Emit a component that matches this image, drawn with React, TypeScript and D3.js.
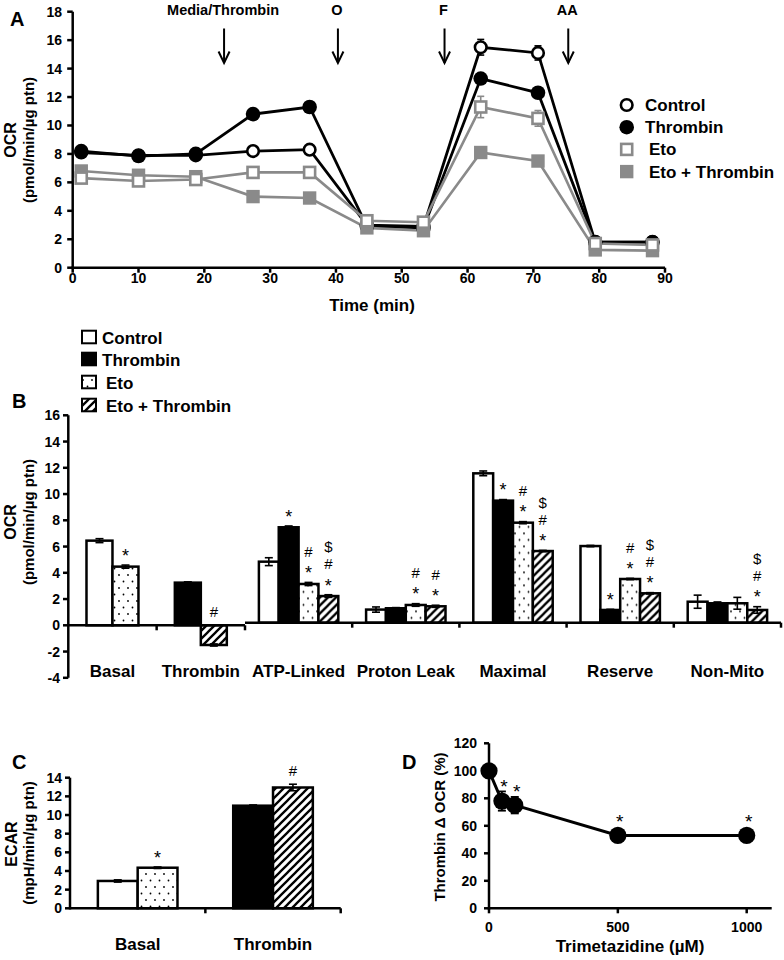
import React from "react";
import * as d3 from "d3";

// ---------------- Panel A: OCR time course ----------------
const timeMin = [1.3, 10, 18.7, 27.4, 36, 44.7, 53.3, 62, 70.7, 79.4, 88.1];
const ocrControl = [8.1, 7.9, 7.9, 8.2, 8.3, 3.0, 2.9, 15.5, 15.1, 1.8, 1.8];
const ocrThrombin = [8.2, 7.85, 8.0, 10.8, 11.3, 2.9, 2.8, 13.3, 12.3, 1.8, 1.8];
const ocrEto = [6.3, 6.1, 6.2, 6.7, 6.7, 3.3, 3.2, 11.3, 10.5, 1.7, 1.6];
const ocrEtoThrombin = [6.8, 6.5, 6.4, 5.0, 4.9, 2.8, 2.6, 8.1, 7.5, 1.25, 1.2];
const errControl = [0.2, 0.15, 0.15, 0.15, 0.15, 0.1, 0.1, 0.55, 0.5, 0.1, 0.1];
const errThrombin = [0.2, 0.15, 0.15, 0.15, 0.15, 0.1, 0.1, 0.3, 0.3, 0.1, 0.1];
const errEto = [0.15, 0.15, 0.15, 0.15, 0.15, 0.1, 0.1, 0.75, 0.55, 0.1, 0.1];
const errEtoThrombin = [0.15, 0.15, 0.15, 0.15, 0.15, 0.1, 0.1, 0.3, 0.3, 0.1, 0.1];
const injectionTimes = [23, 40.3, 56.5, 75.3];
const injectionLabels = ["Media/Thrombin", "O", "F", "AA"];
const aXTicks = [0, 10, 20, 30, 40, 50, 60, 70, 80, 90];
const aYTicks = [0, 2, 4, 6, 8, 10, 12, 14, 16, 18];
const legendNames = ["Control", "Thrombin", "Eto", "Eto + Thrombin"];

// ---------------- Panel B: OCR parameters ----------------
const bCategories = ["Basal", "Thrombin", "ATP-Linked", "Proton Leak", "Maximal", "Reserve", "Non-Mito"];
const bControl = [6.45, null, 4.65, 1.0, 11.38, 5.84, 1.6];
const bThrombin = [null, 3.25, 7.27, 1.1, 9.3, 0.97, 1.48];
const bEto = [4.47, null, 2.95, 1.35, 7.62, 3.33, 1.48];
const bEtoThrombin = [null, -1.5, 2.03, 1.25, 5.46, 2.24, 0.97];
const bErrControl = [0.15, 0, 0.3, 0.2, 0.18, 0.05, 0.5];
const bErrThrombin = [0, 0.06, 0.1, 0.05, 0.08, 0.05, 0.1];
const bErrEto = [0.12, 0, 0.12, 0.1, 0.08, 0.05, 0.45];
const bErrEtoThrombin = [0, 0.08, 0.1, 0.08, 0.05, 0.05, 0.25];
const bSigControl = ["", "", "", "", "", "", ""];
const bSigThrombin = ["", "", "*", "", "*", "*", ""];
const bSigEto = ["*", "", "*#", "*#", "*#", "*#", ""];
const bSigEtoThrombin = ["", "#", "*#$", "*#", "*#$", "*#$", "*#$"];
const bYTicks = [-4, -2, 0, 2, 4, 6, 8, 10, 12, 14, 16];

// ---------------- Panel C: ECAR ----------------
const cCategories = ["Basal", "Thrombin"];
const cControl = [2.93, null];
const cThrombin = [null, 11.0];
const cEto = [4.35, null];
const cEtoThrombin = [null, 12.95];
const cErrControl = [0.12, 0];
const cErrThrombin = [0, 0.08];
const cErrEto = [0.08, 0];
const cErrEtoThrombin = [0, 0.35];
const cSigControl = ["", ""];
const cSigThrombin = ["", ""];
const cSigEto = ["*", ""];
const cSigEtoThrombin = ["", "#"];
const cYTicks = [0, 2, 4, 6, 8, 10, 12, 14];

// ---------------- Panel D: Trimetazidine ----------------
const dConc = [0, 50, 100, 500, 1000];
const dValue = [100, 78, 75, 53, 53];
const dErr = [1, 7, 6, 1.5, 1.5];
const dSig = ["", "*", "*", "*", "*"];
const dXTicks = [0, 500, 1000];
const dYTicks = [0, 20, 40, 60, 80, 100, 120];

const FONT = "'Liberation Sans', Arial, Helvetica, sans-serif";
const GRAY = "#8a8a8a";
const AX = 2.5;

type BarSeries = {
  key: string;
  values: (number | null)[];
  err: number[];
  sig: string[];
  fill: string;
};

function SigStack({ x, top, text, fs, first, gap }: { x: number; top: number; text: string; fs: number; first: number; gap: number }) {
  return (
    <g>
      {text.split("").map((ch, i) => {
        const cy = top - first - i * gap;
        const size = ch === "*" ? fs * 1.2 : fs;
        const off = ch === "*" ? size * 0.6 : size * 0.36;
        return (
          <text key={i} x={x} y={cy + off} textAnchor="middle" fontFamily={FONT} fontSize={size} fill="#000">
            {ch}
          </text>
        );
      })}
    </g>
  );
}

function Bars({
  cats,
  idx,
  series,
  band,
  y,
  dy,
}: {
  cats: string[];
  idx: number[];
  series: BarSeries[];
  band: d3.ScaleBand<string>;
  y: d3.ScaleLinear<number, number>;
  dy: number;
}) {
  return (
    <g transform={`translate(0,${dy})`}>
      {idx.map((ci) => {
        const cat = cats[ci];
        const present = series.filter((s) => s.values[ci] != null);
        const sub = d3
          .scaleBand<string>()
          .domain(present.map((s) => s.key))
          .range([0, band.bandwidth()])
          .paddingInner(0)
          .paddingOuter(0.7);
        const gx = band(cat) as number;
        return (
          <g key={cat}>
            {present.map((s) => {
              const v = s.values[ci] as number;
              const e = s.err[ci];
              const x0 = gx + (sub(s.key) as number);
              const w = sub.bandwidth();
              const cx = x0 + w / 2;
              const yTop = y(Math.max(v, 0));
              const h = Math.abs(y(v) - y(0));
              const top = v >= 0 ? y(v + e) : y(0);
              return (
                <g key={s.key}>
                  <rect x={x0} y={yTop} width={w} height={h} fill={s.fill} stroke="#000" strokeWidth={2.5} />
                  {e > 0 && (
                    <g stroke="#000" strokeWidth={1.6}>
                      <line x1={cx} x2={cx} y1={y(v - e)} y2={y(v + e)} />
                      <line x1={cx - 4} x2={cx + 4} y1={y(v - e)} y2={y(v - e)} />
                      <line x1={cx - 4} x2={cx + 4} y1={y(v + e)} y2={y(v + e)} />
                    </g>
                  )}
                  {s.sig[ci] && <SigStack x={cx} top={top} text={s.sig[ci]} fs={15} first={14} gap={17} />}
                </g>
              );
            })}
          </g>
        );
      })}
    </g>
  );
}

export default function App() {
  // ---------- Panel A scales ----------
  const xA = d3.scaleLinear().domain([0, 90]).range([72.7, 665]);
  const yA = d3.scaleLinear().domain([0, 18]).range([267.7, 11.7]);
  const seriesA = [
    { name: "Control", v: ocrControl, e: errControl, color: "#000", kind: "circle", filled: false },
    { name: "Thrombin", v: ocrThrombin, e: errThrombin, color: "#000", kind: "circle", filled: true },
    { name: "Eto + Thrombin", v: ocrEtoThrombin, e: errEtoThrombin, color: GRAY, kind: "square", filled: true },
    { name: "Eto", v: ocrEto, e: errEto, color: GRAY, kind: "square", filled: false },
  ];
  const lineA = (vals: number[]) =>
    d3
      .line<number>()
      .x((_, i) => xA(timeMin[i]))
      .y((d) => yA(d))(vals) as string;

  const marker = (kind: string, filled: boolean, color: string, cx: number, cy: number, key: string | number) => {
    if (kind === "circle") {
      return filled ? (
        <circle key={key} cx={cx} cy={cy} r={7.3} fill={color} />
      ) : (
        <circle key={key} cx={cx} cy={cy} r={5.8} fill="#fff" stroke={color} strokeWidth={2.6} />
      );
    }
    return filled ? (
      <rect key={key} x={cx - 6.7} y={cy - 6.7} width={13.4} height={13.4} fill={color} />
    ) : (
      <rect key={key} x={cx - 5.5} y={cy - 5.5} width={11} height={11} fill="#fff" stroke={color} strokeWidth={2.6} />
    );
  };

  // ---------- Panel B scales ----------
  const yB = d3.scaleLinear().domain([-4, 16]).range([677.8, 415.3]);
  const bandBL = d3.scaleBand<string>().domain(bCategories.slice(0, 2)).range([68.3, 245]).padding(0);
  const bandBR = d3.scaleBand<string>().domain(bCategories.slice(2)).range([245, 781]).padding(0);
  const seriesB: BarSeries[] = [
    { key: "Control", values: bControl, err: bErrControl, sig: bSigControl, fill: "#fff" },
    { key: "Thrombin", values: bThrombin, err: bErrThrombin, sig: bSigThrombin, fill: "#000" },
    { key: "Eto", values: bEto, err: bErrEto, sig: bSigEto, fill: "url(#dots)" },
    { key: "EtoThrombin", values: bEtoThrombin, err: bErrEtoThrombin, sig: bSigEtoThrombin, fill: "url(#hatch)" },
  ];
  const bRightDy = -2.6;

  // ---------- Panel C scales ----------
  const yC = d3.scaleLinear().domain([0, 14]).range([908.3, 777.7]);
  const bandC = d3.scaleBand<string>().domain(cCategories).range([70, 340.7]).padding(0);
  const seriesC: BarSeries[] = [
    { key: "Control", values: cControl, err: cErrControl, sig: cSigControl, fill: "#fff" },
    { key: "Thrombin", values: cThrombin, err: cErrThrombin, sig: cSigThrombin, fill: "#000" },
    { key: "Eto", values: cEto, err: cErrEto, sig: cSigEto, fill: "url(#dots)" },
    { key: "EtoThrombin", values: cEtoThrombin, err: cErrEtoThrombin, sig: cSigEtoThrombin, fill: "url(#hatch)" },
  ];

  // ---------- Panel D scales ----------
  const xD = d3.scaleLinear().domain([0, 1000]).range([489, 746.7]);
  const yD = d3.scaleLinear().domain([0, 120]).range([908.3, 743.3]);
  const lineD = d3
    .line<number>()
    .x((_, i) => xD(dConc[i]))
    .y((d) => yD(d))(dValue) as string;

  const bold = { fontFamily: FONT, fontWeight: 700 as const, fill: "#000" };

  const legendFillsB = ["#fff", "#000", "url(#dots)", "url(#hatch)"];

  return (
    <svg width={784} height={960} style={{ position: "absolute", left: 0, top: 0, background: "#fff" }}>
      <defs>
        <pattern id="dots" patternUnits="userSpaceOnUse" width={9} height={13}>
          <rect width={9} height={13} fill="#fff" />
          <circle cx={2} cy={3} r={0.9} fill="#000" />
          <circle cx={6.5} cy={9.5} r={0.9} fill="#000" />
        </pattern>
        <pattern id="hatch" patternUnits="userSpaceOnUse" width={8} height={8}>
          <rect width={8} height={8} fill="#fff" />
          <path d="M-2,2 L2,-2 M0,8 L8,0 M6,10 L10,6" stroke="#000" strokeWidth={2.3} />
        </pattern>
      </defs>
      <rect width={784} height={960} fill="#fff" />

      {/* ================= Panel A ================= */}
      <text x={10} y={26} fontSize={20} {...bold}>A</text>
      <text transform={`translate(16,140) rotate(-90)`} textAnchor="middle" fontSize={16} {...bold}>OCR</text>
      <text transform={`translate(34,140) rotate(-90)`} textAnchor="middle" fontSize={15} {...bold}>(pmol/min/µg ptn)</text>
      <g stroke="#000" strokeWidth={AX}>
        <line x1={xA(0)} x2={xA(0)} y1={yA(18)} y2={yA(0) + 1.2} />
        <line x1={xA(0) - 1.2} x2={xA(90)} y1={yA(0)} y2={yA(0)} />
        {aYTicks.map((t) => (
          <line key={t} x1={xA(0) - 5.5} x2={xA(0)} y1={yA(t)} y2={yA(t)} />
        ))}
        {aXTicks.map((t) => (
          <line key={t} x1={xA(t)} x2={xA(t)} y1={yA(0)} y2={yA(0) + 5} />
        ))}
      </g>
      {aYTicks.map((t) => (
        <text key={t} x={62} y={yA(t) + 5} textAnchor="end" fontSize={14} {...bold}>{t}</text>
      ))}
      {aXTicks.map((t) => (
        <text key={t} x={xA(t)} y={283} textAnchor="middle" fontSize={14} {...bold}>{t}</text>
      ))}
      <text x={372} y={311} textAnchor="middle" fontSize={17} {...bold}>Time (min)</text>

      {injectionTimes.map((t, i) => (
        <g key={i}>
          <text x={xA(t) - 1} y={15} textAnchor="middle" fontSize={14.5} {...bold}>{injectionLabels[i]}</text>
          <g stroke="#000" strokeWidth={2} fill="none">
            <line x1={xA(t)} x2={xA(t)} y1={28.5} y2={63} />
            <polyline points={`${xA(t) - 5.5},51.5 ${xA(t)},63 ${xA(t) + 5.5},51.5`} />
          </g>
        </g>
      ))}

      {seriesA.map((s) => (
        <path key={s.name} d={lineA(s.v)} fill="none" stroke={s.color} strokeWidth={s.color === GRAY ? 2.6 : 2.8} />
      ))}
      {seriesA.map((s) => (
        <g key={s.name + "e"} stroke={s.color === GRAY ? GRAY : "#000"} strokeWidth={1.6}>
          {s.v.map((v, i) => (
            <g key={i}>
              <line x1={xA(timeMin[i])} x2={xA(timeMin[i])} y1={yA(v - s.e[i])} y2={yA(v + s.e[i])} />
              <line x1={xA(timeMin[i]) - 3.5} x2={xA(timeMin[i]) + 3.5} y1={yA(v + s.e[i])} y2={yA(v + s.e[i])} />
              <line x1={xA(timeMin[i]) - 3.5} x2={xA(timeMin[i]) + 3.5} y1={yA(v - s.e[i])} y2={yA(v - s.e[i])} />
            </g>
          ))}
        </g>
      ))}
      {seriesA.map((s) => (
        <g key={s.name + "m"}>{s.v.map((v, i) => marker(s.kind, s.filled, s.color, xA(timeMin[i]), yA(v), i))}</g>
      ))}

      {/* Legend A */}
      {legendNames.map((n, i) => {
        const s = seriesA.find((q) => q.name === n)!;
        const cy = 105 + i * 22.2;
        const tx = s.kind === "circle" ? 645 : 649;
        return (
          <g key={n}>
            {marker(s.kind, s.filled, s.color, 626.7, cy, n)}
            <text x={tx} y={cy + 6} fontSize={17} {...bold}>{n}</text>
          </g>
        );
      })}

      {/* ================= Panel B ================= */}
      <text x={12} y={408} fontSize={20} {...bold}>B</text>
      <text transform={`translate(16,522) rotate(-90)`} textAnchor="middle" fontSize={16} {...bold}>OCR</text>
      <text transform={`translate(34,522) rotate(-90)`} textAnchor="middle" fontSize={15} {...bold}>(pmol/min/µg ptn)</text>

      {legendNames.map((n, i) => {
        const ys = [337, 359, 382, 405];
        return (
          <g key={n}>
            <rect x={82} y={ys[i] - 6.3} width={14} height={12.6} fill={legendFillsB[i]} stroke="#000" strokeWidth={2} />
            <text x={i < 2 ? 102 : 106} y={ys[i] + 6.5} fontSize={17} {...bold}>{n}</text>
          </g>
        );
      })}

      <Bars cats={bCategories} idx={[0, 1]} series={seriesB} band={bandBL} y={yB} dy={0} />
      <Bars cats={bCategories} idx={[2, 3, 4, 5, 6]} series={seriesB} band={bandBR} y={yB} dy={bRightDy} />

      <g stroke="#000" strokeWidth={AX}>
        <line x1={68.3} x2={68.3} y1={yB(16)} y2={yB(-4)} />
        {bYTicks.map((t) => (
          <line key={t} x1={63} x2={68.3} y1={yB(t)} y2={yB(t)} />
        ))}
        <line x1={68.3} x2={245} y1={yB(0)} y2={yB(0)} />
        {bCategories.slice(0, 2).map((c) => {
          const xe = (bandBL(c) as number) + bandBL.bandwidth();
          return <line key={c} x1={xe} x2={xe} y1={yB(0)} y2={yB(0) + 5} />;
        })}
        <line x1={245} x2={781} y1={yB(0) + bRightDy} y2={yB(0) + bRightDy} />
        {bCategories.slice(2).map((c) => {
          const xe = (bandBR(c) as number) + bandBR.bandwidth();
          return <line key={c} x1={xe} x2={xe} y1={yB(0) + bRightDy} y2={yB(0) + bRightDy + 5} />;
        })}
      </g>
      {bYTicks.map((t) => (
        <text key={t} x={60} y={yB(t) + 5} textAnchor="end" fontSize={14} {...bold}>{t}</text>
      ))}
      {bCategories.map((c, i) => {
        const band = i < 2 ? bandBL : bandBR;
        return (
          <text key={c} x={(band(c) as number) + band.bandwidth() / 2} y={677} textAnchor="middle" fontSize={17} {...bold}>
            {c}
          </text>
        );
      })}

      {/* ================= Panel C ================= */}
      <text x={12} y={769} fontSize={20} {...bold}>C</text>
      <text transform={`translate(17,844) rotate(-90)`} textAnchor="middle" fontSize={16} {...bold}>ECAR</text>
      <text transform={`translate(34,843) rotate(-90)`} textAnchor="middle" fontSize={15} {...bold}>(mpH/min/µg ptn)</text>
      <Bars cats={cCategories} idx={[0, 1]} series={seriesC} band={bandC} y={yC} dy={0} />
      <g stroke="#000" strokeWidth={AX}>
        <line x1={70} x2={70} y1={yC(14)} y2={yC(0) + 1.2} />
        {cYTicks.map((t) => (
          <line key={t} x1={65} x2={70} y1={yC(t)} y2={yC(t)} />
        ))}
        <line x1={70} x2={340.7} y1={yC(0)} y2={yC(0)} />
        {cCategories.map((c) => {
          const xe = (bandC(c) as number) + bandC.bandwidth();
          return <line key={c} x1={xe} x2={xe} y1={yC(0)} y2={yC(0) + 5} />;
        })}
      </g>
      {cYTicks.map((t) => (
        <text key={t} x={62} y={yC(t) + 5} textAnchor="end" fontSize={14} {...bold}>{t}</text>
      ))}
      {cCategories.map((c) => (
        <text key={c} x={(bandC(c) as number) + bandC.bandwidth() / 2} y={950} textAnchor="middle" fontSize={17} {...bold}>
          {c}
        </text>
      ))}

      {/* ================= Panel D ================= */}
      <text x={402} y={769} fontSize={20} {...bold}>D</text>
      <text transform={`translate(445,827) rotate(-90)`} textAnchor="middle" fontSize={15} {...bold}>Thrombin Δ OCR (%)</text>
      <g stroke="#000" strokeWidth={AX}>
        <line x1={xD(0)} x2={xD(0)} y1={yD(120)} y2={yD(0) + 1.2} />
        <line x1={xD(0) - 1.2} x2={771.7} y1={yD(0)} y2={yD(0)} />
        {dYTicks.map((t) => (
          <line key={t} x1={xD(0) - 5} x2={xD(0)} y1={yD(t)} y2={yD(t)} />
        ))}
        {dXTicks.map((t) => (
          <line key={t} x1={xD(t)} x2={xD(t)} y1={yD(0)} y2={yD(0) + 5} />
        ))}
      </g>
      {dYTicks.map((t) => (
        <text key={t} x={477} y={yD(t) + 5} textAnchor="end" fontSize={14} {...bold}>{t}</text>
      ))}
      {dXTicks.map((t) => (
        <text key={t} x={xD(t)} y={932} textAnchor="middle" fontSize={14} {...bold}>{t}</text>
      ))}
      <text x={630} y={952} textAnchor="middle" fontSize={17} {...bold}>Trimetazidine (µM)</text>
      <path d={lineD} fill="none" stroke="#000" strokeWidth={3} />
      <g stroke="#000" strokeWidth={1.8}>
        {dValue.map((v, i) => (
          <g key={i}>
            <line x1={xD(dConc[i])} x2={xD(dConc[i])} y1={yD(v - dErr[i])} y2={yD(v + dErr[i])} />
            <line x1={xD(dConc[i]) - 4} x2={xD(dConc[i]) + 4} y1={yD(v - dErr[i])} y2={yD(v - dErr[i])} />
            <line x1={xD(dConc[i]) - 4} x2={xD(dConc[i]) + 4} y1={yD(v + dErr[i])} y2={yD(v + dErr[i])} />
          </g>
        ))}
      </g>
      {dValue.map((v, i) => (
        <circle key={i} cx={xD(dConc[i])} cy={yD(v)} r={8.6} fill="#000" />
      ))}
      {dValue.map((v, i) =>
        dSig[i] ? (
          <SigStack key={i} x={xD(dConc[i]) + 2} top={Math.min(yD(v) - 9, yD(v + dErr[i]))} text={dSig[i]} fs={16} first={10} gap={17} />
        ) : null
      )}
    </svg>
  );
}
